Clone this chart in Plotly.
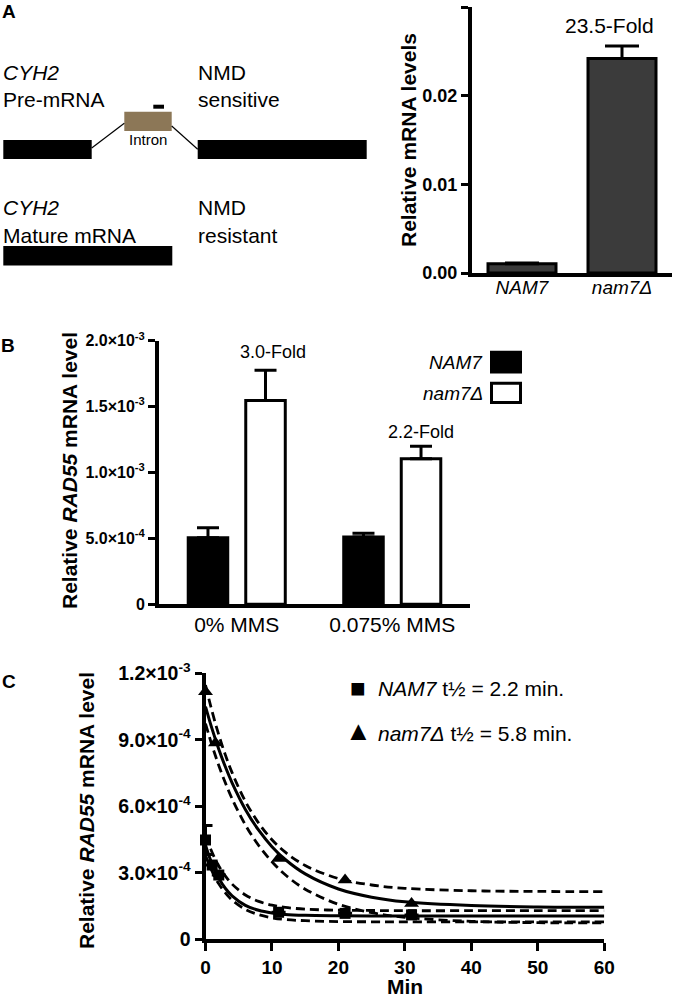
import plotly.graph_objects as go

W, H = 674, 999
FONT = "Liberation Sans, Arial, sans-serif"


def px(x):
    return x / W


def py(y):
    return 1 - y / H


# ---------------- Panel A data ----------------
a_cats = ["<i>NAM7</i>", "<i>nam7Δ</i>"]
a_vals = [0.00103, 0.0242]
a_err = [0.0001, 0.0014]
a_fold = "23.5-Fold"
a_ticks = [0, 0.01, 0.02, 0.03]

# ---------------- Panel B data ----------------
b_cats = ["0% MMS", "0.075% MMS"]
b_nam7 = [0.505e-3, 0.51e-3]
b_nam7_err = [0.075e-3, 0.03e-3]
b_del = [1.546e-3, 1.104e-3]
b_del_err = [0.23e-3, 0.095e-3]
b_fold = ["3.0-Fold", "2.2-Fold"]
b_tickvals = [0, 0.5e-3, 1.0e-3, 1.5e-3, 2.0e-3]
b_ticktext = ["0", "5.0×10<sup>-4</sup>", "1.0×10<sup>-3</sup>",
              "1.5×10<sup>-3</sup>", "2.0×10<sup>-3</sup>"]

# ---------------- Panel C data (values in units of 1e-4) ----------------
c_sq_t = [0, 1, 2, 11, 21, 31]
c_sq_v = [4.48, 3.35, 2.90, 1.22, 1.17, 1.10]
c_sq_err = [0.65, 0, 0, 0, 0, 0]
c_tri_t = [0, 1.5, 11, 21, 31]
c_tri_v = [11.17, 8.86, 3.65, 2.68, 1.62]

c_fit_t = [0, 1, 2, 3, 4, 6, 8, 10, 12, 15, 20, 25, 30, 40, 50, 60]
c_del_fit = [10.50, 9.48, 8.57, 7.77, 7.06, 5.86, 4.92, 4.18, 3.60, 2.95, 2.27, 1.90, 1.69, 1.52, 1.46, 1.45]
c_del_hi = [11.47, 10.27, 9.22, 8.31, 7.52, 6.22, 5.24, 4.49, 3.93, 3.33, 2.74, 2.45, 2.30, 2.19, 2.16, 2.15]
c_del_lo = [9.73, 8.73, 7.84, 7.05, 6.34, 5.16, 4.23, 3.50, 2.91, 2.26, 1.58, 1.20, 0.99, 0.81, 0.75, 0.74]
c_wt_fit = [4.25, 3.39, 2.75, 2.29, 1.96, 1.53, 1.31, 1.19, 1.12, 1.08, 1.06, 1.05, 1.05, 1.05, 1.05, 1.05]
c_wt_hi = [4.69, 3.91, 3.31, 2.85, 2.49, 2.00, 1.71, 1.54, 1.44, 1.36, 1.31, 1.30, 1.29, 1.29, 1.29, 1.29]
c_wt_lo = [3.79, 3.06, 2.50, 2.09, 1.77, 1.35, 1.11, 0.97, 0.89, 0.84, 0.80, 0.79, 0.79, 0.79, 0.79, 0.79]
UNIT = 1e-4

c_tickvals = [0, 3e-4, 6e-4, 9e-4, 1.2e-3]
c_ticktext = ["0", "3.0×10<sup>-4</sup>", "6.0×10<sup>-4</sup>",
              "9.0×10<sup>-4</sup>", "1.2×10<sup>-3</sup>"]
c_xticks = [0, 10, 20, 30, 40, 50, 60]
c_legend = ["<i>NAM7</i> t½ = 2.2 min.", "<i>nam7Δ</i> t½ = 5.8 min."]


def sc(vals):
    return [v * UNIT for v in vals]


fig = go.Figure()

# ---- Panel A bars ----
fig.add_trace(go.Bar(
    x=a_cats, y=a_vals, width=0.68, xaxis="x", yaxis="y",
    marker=dict(color="#3b3b3b", line=dict(color="black", width=3)),
    error_y=dict(type="data", symmetric=False, array=a_err, arrayminus=[0, 0],
                 color="black", thickness=3, width=17),
    showlegend=False,
))

# ---- Panel B bars ----
fig.add_trace(go.Bar(
    x=b_cats, y=b_nam7, xaxis="x2", yaxis="y2", name="NAM7",
    marker=dict(color="black", line=dict(color="black", width=3)),
    error_y=dict(type="data", symmetric=False, array=b_nam7_err, arrayminus=[0, 0],
                 color="black", thickness=3, width=11),
    showlegend=False,
))
fig.add_trace(go.Bar(
    x=b_cats, y=b_del, xaxis="x2", yaxis="y2", name="nam7Δ",
    marker=dict(color="white", line=dict(color="black", width=3)),
    error_y=dict(type="data", symmetric=False, array=b_del_err, arrayminus=[0, 0],
                 color="black", thickness=3, width=11),
    showlegend=False,
))

# ---- Panel C curves ----
DASH = "9px,5px"
for series, dash in [(c_del_hi, DASH), (c_del_lo, DASH), (c_del_fit, "solid"),
                     (c_wt_hi, DASH), (c_wt_lo, DASH), (c_wt_fit, "solid")]:
    fig.add_trace(go.Scatter(
        x=c_fit_t, y=sc(series), mode="lines", xaxis="x3", yaxis="y3",
        line=dict(color="black", width=3 if dash == "solid" else 2.8, dash=dash, shape="spline"),
        showlegend=False, cliponaxis=False, hoverinfo="skip",
    ))

fig.add_trace(go.Scatter(
    x=c_sq_t, y=sc(c_sq_v), mode="markers", xaxis="x3", yaxis="y3",
    marker=dict(symbol="square", size=11, color="black"),
    error_y=dict(type="data", array=sc(c_sq_err), color="black", thickness=3, width=7),
    showlegend=False, cliponaxis=False,
))
fig.add_trace(go.Scatter(
    x=c_tri_t, y=sc(c_tri_v), mode="markers", xaxis="x3", yaxis="y3",
    marker=dict(symbol="triangle-up", size=13, color="black"),
    showlegend=False, cliponaxis=False,
))

# ---------------- annotations ----------------
ann = []


def text(x, y, s, size, xanchor="center", yanchor="middle", angle=0, bold=False):
    ann.append(dict(
        x=px(x), y=py(y), xref="paper", yref="paper", text=s, showarrow=False,
        xanchor=xanchor, yanchor=yanchor, textangle=angle,
        font=dict(family=FONT, size=size, color="black", weight="bold" if bold else "normal"),
    ))


# panel letters
text(9, 12, "A", 19, bold=True)
text(8, 345, "B", 19, bold=True)
text(9, 681, "C", 19, bold=True)

# diagram texts
text(1, 72, "<i>CYH2</i>", 21, xanchor="left")
text(1, 100, "Pre-mRNA", 21, xanchor="left")
text(196, 72, "NMD", 21, xanchor="left")
text(196, 100, "sensitive", 21, xanchor="left")
text(148, 140, "Intron", 15)
text(1, 208, "<i>CYH2</i>", 21, xanchor="left")
text(1, 235, "Mature mRNA", 21, xanchor="left")
text(196, 208, "NMD", 21, xanchor="left")
text(196, 235, "resistant", 21, xanchor="left")

# panel A labels
text(609, 26, a_fold, 21)
text(409, 140, "Relative mRNA levels", 21, angle=-90, bold=True)

# panel B labels
text(273, 352, b_fold[0], 18)
text(421, 432, b_fold[1], 18)
text(70, 471, "Relative <i>RAD55</i> mRNA level", 21, angle=-90, bold=True)
text(485, 362, "<i>NAM7</i>", 19, xanchor="right")
text(485, 393, "<i>nam7Δ</i>", 19, xanchor="right")

# panel C labels
text(86, 811, "Relative <i>RAD55</i> mRNA level", 21, angle=-90, bold=True)
text(405, 986, "Min", 21, bold=True)
text(358, 688, "■", 26)
text(358, 731, "▲", 27)
text(376, 688, c_legend[0], 21, xanchor="left")
text(376, 733, c_legend[1], 21, xanchor="left")

# ---------------- shapes (diagram + legend boxes) ----------------
shapes = []


def rect(x0, y0, x1, y1, fill, line_w=0):
    shapes.append(dict(type="rect", xref="paper", yref="paper",
                       x0=px(x0), x1=px(x1), y0=py(y1), y1=py(y0),
                       fillcolor=fill, line=dict(color="black", width=line_w)))


def seg(x0, y0, x1, y1, w=1.2):
    shapes.append(dict(type="line", xref="paper", yref="paper",
                       x0=px(x0), x1=px(x1), y0=py(y0), y1=py(y1),
                       line=dict(color="black", width=w)))


rect(3.3, 140, 91.7, 159, "black")
rect(197.7, 140, 366.7, 159, "black")
shapes.append(dict(type="rect", xref="paper", yref="paper",
                   x0=px(124.3), x1=px(171.7), y0=py(131), y1=py(111.7),
                   fillcolor="#8c7757", line=dict(width=0)))
rect(153.3, 104.7, 164, 108.7, "black")
seg(91.7, 148, 124.3, 123.3)
seg(171.7, 126, 197.7, 149.3)
rect(3.3, 246, 172.3, 265.5, "black")

# panel B legend boxes
rect(491.5, 352.2, 520.5, 372, "black", 3)
rect(491.5, 383.2, 520.5, 402.5, "white", 3)

AX = dict(showgrid=False, zeroline=False, showline=True, linecolor="black",
          linewidth=4, color="black", automargin=False)

fig.update_layout(
    width=W, height=H, autosize=False,
    margin=dict(l=0, r=0, t=0, b=0, pad=0, autoexpand=False),
    paper_bgcolor="white", plot_bgcolor="white",
    font=dict(family=FONT, color="black"),
    showlegend=False,
    barmode="group", bargap=0.26, bargroupgap=0.313,
    annotations=ann, shapes=shapes,
    xaxis=dict(**AX, domain=[px(472), px(672)], anchor="y", range=[-0.5, 1.5],
               ticks="", tickfont=dict(size=19, family=FONT), ticklabelstandoff=-6),
    yaxis=dict(**AX, domain=[py(273), py(7)], anchor="x", range=[0, 0.03],
               tickvals=a_ticks, tickformat=".2f", ticks="outside", ticklen=7,
               tickwidth=3, tickcolor="black",
               tickfont=dict(size=18, family=FONT, weight="bold")),
    xaxis2=dict(**AX, domain=[px(159), px(470)], anchor="y2", range=[-0.5, 1.5],
                ticks="", tickfont=dict(size=21, family=FONT), ticklabelstandoff=-2),
    yaxis2=dict(**AX, domain=[py(604.3), py(340.7)], anchor="x2", range=[0, 2e-3],
                tickvals=b_tickvals, ticktext=b_ticktext, ticks="outside", ticklen=7,
                tickwidth=3, tickcolor="black",
                tickfont=dict(size=16, family=FONT, weight="bold")),
    xaxis3=dict(**AX, domain=[px(205.5), px(604.3)], anchor="y3", range=[0, 60],
                tickvals=c_xticks, ticks="outside", ticklen=8, tickwidth=3,
                tickcolor="black", layer="below traces",
                tickfont=dict(size=19, family=FONT, weight="bold")),
    yaxis3=dict(**AX, domain=[py(939.3), py(673.3)], anchor="x3", range=[0, 1.2e-3],
                tickvals=c_tickvals, ticktext=c_ticktext, ticks="outside", ticklen=7,
                tickwidth=3, tickcolor="black", layer="below traces",
                tickfont=dict(size=19.5, family=FONT, weight="bold")),
)

fig.write_html("out.html", config={"displayModeBar": False, "staticPlot": True},
               post_script="document.body.style.margin='0';document.body.style.overflow='hidden';")
